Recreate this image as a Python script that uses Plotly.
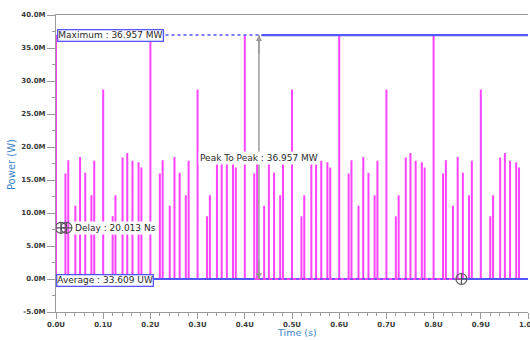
import plotly.graph_objects as go

# ---- data (time in microseconds, power in MW) ----
SPIKE_TIME_US = [
    0.000, 0.020, 0.026, 0.041, 0.051, 0.062, 0.075, 0.081,
    0.100, 0.120, 0.126, 0.141, 0.151, 0.162, 0.175, 0.181,
    0.200, 0.220, 0.226, 0.241, 0.251, 0.262, 0.275, 0.281,
    0.300, 0.320, 0.326, 0.341, 0.351, 0.362, 0.375, 0.381,
    0.400, 0.420, 0.426, 0.441, 0.451, 0.462, 0.475, 0.481,
    0.500, 0.520, 0.526, 0.541, 0.551, 0.562, 0.575, 0.581,
    0.600, 0.620, 0.626, 0.641, 0.651, 0.662, 0.675, 0.681,
    0.700, 0.720, 0.726, 0.741, 0.751, 0.762, 0.775, 0.781,
    0.800, 0.820, 0.826, 0.841, 0.851, 0.862, 0.875, 0.881,
    0.900, 0.920, 0.926, 0.941, 0.951, 0.962, 0.975, 0.981,
]
SPIKE_POWER_MW = [
    36.957, 16.0, 18.0, 11.1, 18.5, 16.1, 12.7, 17.9,
    28.7, 9.5, 12.7, 18.4, 19.1, 17.9, 17.7, 16.9,
    36.957, 16.0, 18.0, 11.1, 18.5, 16.1, 12.7, 17.9,
    28.7, 9.5, 12.7, 18.4, 19.1, 17.9, 17.7, 16.9,
    36.957, 16.0, 18.0, 11.1, 18.5, 16.1, 12.7, 17.9,
    28.7, 9.5, 12.7, 18.4, 19.1, 17.9, 17.7, 16.9,
    36.957, 16.0, 18.0, 11.1, 18.5, 16.1, 12.7, 17.9,
    28.7, 9.5, 12.7, 18.4, 19.1, 17.9, 17.7, 16.9,
    36.957, 16.0, 18.0, 11.1, 18.5, 16.1, 12.7, 17.9,
    28.7, 9.5, 12.7, 18.4, 19.1, 17.9, 17.7, 16.9,
]
MAXIMUM_MW = 36.957
AVERAGE_MW = 0.0
X_TICKS = [0.0, 0.1, 0.2, 0.3, 0.4, 0.5, 0.6, 0.7, 0.8, 0.9, 1.0]
X_TICK_LABELS = ["0.0U", "0.1U", "0.2U", "0.3U", "0.4U", "0.5U",
                 "0.6U", "0.7U", "0.8U", "0.9U", "1.0U"]
Y_TICKS = [-5, 0, 5, 10, 15, 20, 25, 30, 35, 40]
Y_TICK_LABELS = ["-5.0M", "0.0M", "5.0M", "10.0M", "15.0M", "20.0M",
                 "25.0M", "30.0M", "35.0M", "40.0M"]

# marker / annotation placements (in data units)
PEAK_X = 0.430
MAX_DOT_START, MAX_DOT_END = 0.232, 0.435
AVG_SOLID_END, AVG_DOT_START, AVG_DOT_END = 0.420, 0.432, 0.852
AVG_MARK_X = 0.859
DELAY_MARK_X = [0.0105, 0.022]
DELAY_Y = 7.76

# ---- waveform built from spikes ----
wx, wy = [], []
for t, p in zip(SPIKE_TIME_US, SPIKE_POWER_MW):
    wx += [t, t, t]
    wy += [0.0, p, 0.0]

MAG = "#ff44ff"
BLUE = "#5656ff"
GREY = "#9a9a9a"
TXT = "#2a2a2a"
FONT = "DejaVu Sans"

fig = go.Figure()
fig.add_trace(go.Scatter(x=wx, y=wy, mode="lines",
                         line=dict(color=MAG, width=2), hoverinfo="skip"))

# Maximum line: dotted then solid
fig.add_trace(go.Scatter(x=[MAX_DOT_START, MAX_DOT_END], y=[MAXIMUM_MW]*2, mode="lines",
                         line=dict(color=BLUE, width=1.5, dash="dot")))
fig.add_trace(go.Scatter(x=[MAX_DOT_END, 1.0], y=[MAXIMUM_MW]*2, mode="lines",
                         line=dict(color=BLUE, width=2.2)))
# Average line: solid, dotted, solid
fig.add_trace(go.Scatter(x=[0.2, AVG_SOLID_END], y=[AVERAGE_MW]*2, mode="lines",
                         line=dict(color=BLUE, width=2)))
fig.add_trace(go.Scatter(x=[AVG_DOT_START, AVG_DOT_END], y=[AVERAGE_MW]*2, mode="lines",
                         line=dict(color=BLUE, width=1.5, dash="dot")))
fig.add_trace(go.Scatter(x=[AVG_MARK_X, 1.0], y=[AVERAGE_MW]*2, mode="lines",
                         line=dict(color=BLUE, width=2)))

# markers
fig.add_trace(go.Scatter(x=[AVG_MARK_X], y=[AVERAGE_MW], mode="markers",
                         marker=dict(symbol="circle-cross-open", size=11,
                                     color="#555", line=dict(width=1.2, color="#555"))))
fig.add_trace(go.Scatter(x=DELAY_MARK_X, y=[DELAY_Y]*2, mode="markers",
                         marker=dict(symbol="circle-cross-open", size=11,
                                     color="#555", line=dict(width=1.2, color="#555"))))

# peak-to-peak vertical line
fig.add_shape(type="line", x0=PEAK_X, x1=PEAK_X, y0=AVERAGE_MW, y1=MAXIMUM_MW,
              xref="x", yref="y", line=dict(color=GREY, width=1.5))
for yend, ystart in [(MAXIMUM_MW, MAXIMUM_MW - 3), (AVERAGE_MW, AVERAGE_MW + 3)]:
    fig.add_annotation(x=PEAK_X, y=yend, ax=PEAK_X, ay=ystart, xref="x", yref="y",
                       axref="x", ayref="y", showarrow=True, arrowhead=2,
                       arrowsize=1, arrowwidth=1.2, arrowcolor=GREY, text="")

fig.add_annotation(x=PEAK_X, y=18.4, xref="x", yref="y", showarrow=False,
                   text="Peak To Peak : 36.957 MW", bgcolor="white", borderpad=1,
                   font=dict(family=FONT, size=9, color=TXT))
fig.add_annotation(x=0.036, y=DELAY_Y, xref="x", yref="y", showarrow=False,
                   xanchor="left", text="Delay : 20.013 Ns", bgcolor="white", borderpad=1,
                   font=dict(family=FONT, size=9, color=TXT))
fig.add_annotation(x=0.002, y=MAXIMUM_MW, xref="x", yref="y", showarrow=False,
                   xanchor="left", text="Maximum : 36.957 MW", bgcolor="white",
                   bordercolor=BLUE, borderwidth=1.3, borderpad=0,
                   font=dict(family=FONT, size=9, color=TXT))
fig.add_annotation(x=0.0, y=AVERAGE_MW - 0.2, xref="x", yref="y", showarrow=False,
                   xanchor="left", text="Average : 33.609 UW", bgcolor="white",
                   bordercolor=BLUE, borderwidth=1.3, borderpad=0,
                   font=dict(family=FONT, size=9, color=TXT))

# axis titles
fig.add_annotation(x=-0.093, y=0.495, xref="paper", yref="paper", showarrow=False,
                   xanchor="center", yanchor="middle",
                   text="Power (W)", textangle=-90,
                   font=dict(family=FONT, size=10, color="#3a85c8"))
fig.add_annotation(x=0.51, y=-0.07, xref="paper", yref="paper", showarrow=False,
                   xanchor="center", yanchor="middle",
                   text="Time (s)", font=dict(family=FONT, size=9.5, color="#3a85c8"))

tickfont = dict(family=FONT, size=7, color="#3a3a3a", weight="bold")
fig.update_xaxes(range=[0, 1.0], tickvals=X_TICKS, ticktext=X_TICK_LABELS,
                 showline=True, linecolor=GREY, linewidth=1, mirror=True,
                 ticks="outside", ticklen=6, tickcolor=GREY, tickwidth=1,
                 minor=dict(dtick=0.02, ticks="outside", ticklen=3, tickcolor=GREY),
                 showgrid=False, zeroline=False, tickfont=tickfont)
fig.update_yaxes(range=[-5, 40], tickvals=Y_TICKS, ticktext=Y_TICK_LABELS,
                 showline=True, linecolor=GREY, linewidth=1,
                 ticks="outside", ticklen=8, tickcolor=GREY, tickwidth=1,
                 minor=dict(dtick=2.5, ticks="outside", ticklen=3, tickcolor=GREY),
                 showgrid=False, zeroline=False, tickfont=tickfont)

# figure is a little wider than the window so the last tick label is cut at the edge
fig.update_layout(width=548, height=340, margin=dict(l=56, r=18, t=11, b=28),
                  plot_bgcolor="white", paper_bgcolor="white", showlegend=False)

fig.write_html("out.html", config={"displayModeBar": False},
               post_script="document.body.style.margin='0';"
                           "document.body.style.overflow='hidden';")
